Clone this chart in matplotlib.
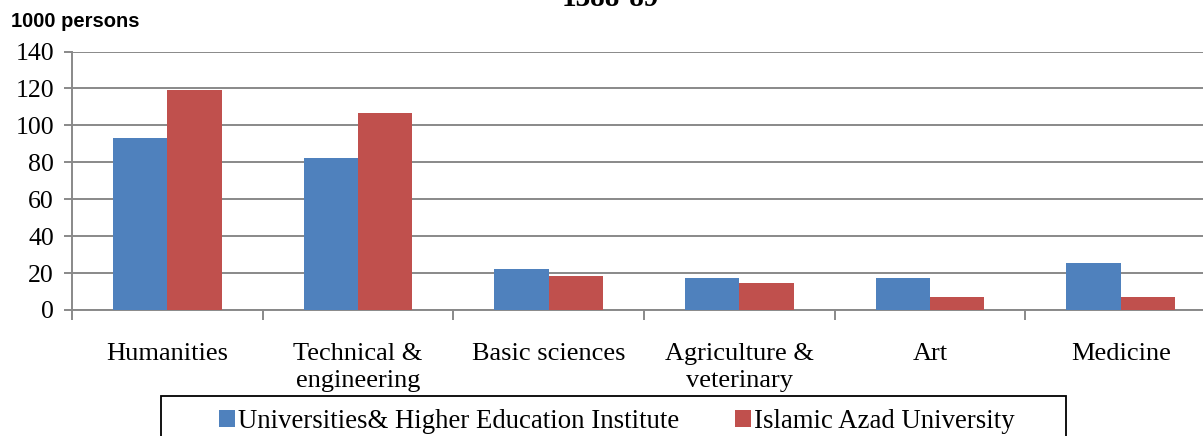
import numpy as np
import matplotlib
matplotlib.use('Agg')
import matplotlib.pyplot as plt
from matplotlib.patches import Rectangle

# enrolled students, 1000 persons, 1388-89
categories = ['Humanities', 'Technical &\nengineering', 'Basic sciences',
              'Agriculture &\nveterinary', 'Art', 'Medicine']
universities = [93.1, 82.5, 22.4, 17.2, 17.6, 25.5]
azad = [119.1, 106.7, 18.3, 14.5, 7.3, 7.0]
series_names = ['Universities& Higher Education Institute', 'Islamic Azad University']

blue = '#4f81bd'
red = '#c0504d'
grey = '#898989'

plt.rcParams['font.family'] = ['Liberation Serif', 'DejaVu Serif']

W, H = 1203, 436
fig = plt.figure(figsize=(W / 100, H / 100), dpi=100)
# plot area runs a bit past the right edge, like the source
ax = fig.add_axes([72 / W, 1 - 310 / H, 1144 / W, (310 - 51.5) / H])

x = np.arange(len(categories))
bw = 0.285
ax.bar(x - bw / 2, universities, bw, color=blue, label=series_names[0], zorder=3)
ax.bar(x + bw / 2, azad, bw, color=red, label=series_names[1], zorder=3)

ax.set_xlim(-0.5, len(categories) - 0.5)
ax.set_ylim(0, 140)
ax.set_yticks(range(0, 141, 20))
ax.yaxis.grid(True, color=grey, lw=1.4, zorder=0)
ax.set_axisbelow(True)

for s in ['top', 'right']:
    ax.spines[s].set_visible(False)
for s in ['left', 'bottom']:
    ax.spines[s].set_color(grey)
    ax.spines[s].set_linewidth(1.4)

# category labels between boundary ticks
ax.set_xticks(np.arange(len(categories) + 1) - 0.5)
ax.set_xticklabels([])
ax.set_xticks(x, minor=True)
ax.set_xticklabels(categories, minor=True, fontsize=19, linespacing=1.3)
ax.tick_params(axis='x', which='major', length=7, width=1.4, color=grey, direction='out')
ax.tick_params(axis='x', which='minor', length=0, pad=24)
ax.tick_params(axis='y', length=6, width=1.4, color=grey, labelsize=18.6, pad=7)

fig.text(11 / W, 1 - 27 / H, '1000 persons', family='Liberation Sans',
         fontweight='bold', fontsize=14.5, va='baseline', ha='left')
fig.text(610 / W, 1 - 6 / H, '1388-89', fontweight='bold', fontsize=21,
         va='baseline', ha='center')

# legend frame, bottom is cut off by the image edge
fig.patches.append(Rectangle((161 / W, -0.05), (1066 - 161) / W, 0.05 + 1 - 396 / H,
                             transform=fig.transFigure, fill=False,
                             edgecolor='black', lw=1.3))
leg = fig.legend(loc='center left', bbox_to_anchor=(219 / W, 1 - 421 / H),
                 ncol=2, frameon=False, fontsize=19.3, handlelength=0.6,
                 handleheight=0.6, handletextpad=0.1, columnspacing=2.1,
                 borderpad=0, borderaxespad=0)

fig.savefig('out.png', dpi=100)
